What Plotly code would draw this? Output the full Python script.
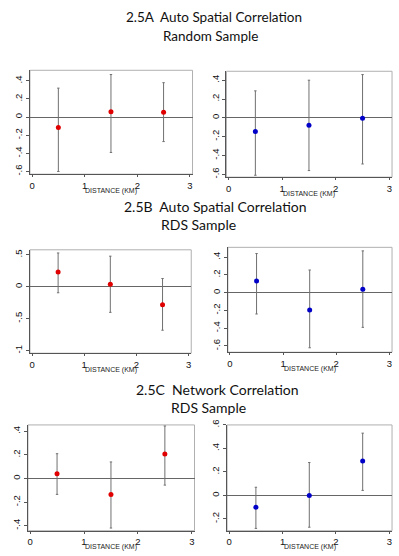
import plotly.graph_objects as go

# ---------------- data ----------------
distance = [0.5, 1.5, 2.5]

# 2.5A Auto Spatial Correlation - Random Sample
a_left_est = [-0.115, 0.06, 0.055]
a_left_lo = [-0.60, -0.39, -0.27]
a_left_hi = [0.32, 0.47, 0.38]
a_right_est = [-0.145, -0.078, -0.005]
a_right_lo = [-0.61, -0.56, -0.49]
a_right_hi = [0.287, 0.40, 0.46]

# 2.5B Auto Spatial Correlation - RDS Sample
b_left_est = [0.232, 0.04, -0.28]
b_left_lo = [-0.093, -0.40, -0.68]
b_left_hi = [0.53, 0.48, 0.13]
b_right_est = [0.131, -0.194, 0.037]
b_right_lo = [-0.24, -0.62, -0.39]
b_right_hi = [0.44, 0.255, 0.47]

# 2.5C Network Correlation - RDS Sample
c_left_est = [0.04, -0.135, 0.207]
c_left_lo = [-0.135, -0.42, -0.056]
c_left_hi = [0.21, 0.14, 0.445]
c_right_est = [-0.10, 0.0, 0.294]
c_right_lo = [-0.28, -0.27, 0.043]
c_right_hi = [0.07, 0.28, 0.53]

x_tickvals = [0, 1, 2, 3]
x_ticktext = ["0", "1", "2", "3"]
ticks_a = [-0.6, -0.4, -0.2, 0, 0.2, 0.4]
ticks_a_text = ["-.6", "-.4", "-.2", "0", ".2", ".4"]
ticks_b_left = [-1, -0.5, 0, 0.5]
ticks_b_left_text = ["-1", "-.5", "0", ".5"]
ticks_c_left = [-0.4, -0.2, 0, 0.2, 0.4]
ticks_c_left_text = ["-.4", "-.2", "0", ".2", ".4"]
ticks_c_right = [-0.2, 0, 0.2, 0.4, 0.6]
ticks_c_right_text = ["-.2", "0", ".2", ".4", ".6"]

titles = [
    ("2.5A  Auto Spatial Correlation", "Random Sample"),
    ("2.5B  Auto Spatial Correlation", "RDS Sample"),
    ("2.5C  Network Correlation", "RDS Sample"),
]
x_label = "DISTANCE (KM)"

RED = "#e00000"
BLUE = "#0000c8"

panels = [
    # est, lo, hi, color, yticks, ytext, yrange, xdomain, ydomain
    (a_left_est, a_left_lo, a_left_hi, RED, ticks_a, ticks_a_text, [-0.63, 0.517], [0.0727, 0.4812], [0.6924, 0.8813]),
    (a_right_est, a_right_lo, a_right_hi, BLUE, ticks_a, ticks_a_text, [-0.63, 0.495], [0.5664, 0.9825], [0.6870, 0.8795]),
    (b_left_est, b_left_lo, b_left_hi, RED, ticks_b_left, ticks_b_left_text, [-1.04, 0.58], [0.0727, 0.4780], [0.3669, 0.5549]),
    (b_right_est, b_right_lo, b_right_hi, BLUE, ticks_a, ticks_a_text, [-0.67, 0.51], [0.5700, 0.9825], [0.3687, 0.5594]),
    (c_left_est, c_left_lo, c_left_hi, RED, ticks_c_left, ticks_c_left_text, [-0.443, 0.454], [0.0677, 0.4862], [0.0441, 0.2365]),
    (c_right_est, c_right_lo, c_right_hi, BLUE, ticks_c_right, ticks_c_right_text, [-0.30, 0.60], [0.5680, 0.9825], [0.0441, 0.2365]),
]

fig = go.Figure()
layout = dict(
    width=399, height=556,
    margin=dict(l=0, r=0, t=0, b=0),
    paper_bgcolor="white", plot_bgcolor="white",
    showlegend=False,
    font=dict(family="Liberation Sans, Arial", color="#222"),
)
shapes = []
annotations = []

for i, (est, lo, hi, col, yt, ytt, yr, xd, yd) in enumerate(panels):
    n = "" if i == 0 else str(i + 1)
    xa, ya = "x" + n, "y" + n
    up = [h - e for h, e in zip(hi, est)]
    dn = [e - l for e, l in zip(est, lo)]
    fig.add_trace(go.Scatter(
        x=distance, y=est, xaxis=xa, yaxis=ya, mode="markers",
        marker=dict(color=col, size=5),
        error_y=dict(type="data", array=up, arrayminus=dn, symmetric=False,
                     color="#707070", thickness=1, width=1.2),
        hoverinfo="skip",
    ))
    layout["xaxis" + n] = dict(
        domain=xd, anchor=ya, range=[-0.04, 3.05],
        tickvals=x_tickvals, ticktext=x_ticktext,
        ticks="outside", ticklen=2, tickcolor="#555", tickwidth=1,
        showline=True, linecolor="#555", linewidth=1,
        showgrid=False, zeroline=False,
        tickfont=dict(size=9.5, color="#111"),
    )
    layout["yaxis" + n] = dict(
        domain=yd, anchor=xa, range=yr,
        tickvals=yt, ticktext=ytt, tickangle=-90,
        ticks="outside", ticklen=3, tickcolor="#555", tickwidth=1,
        showline=True, linecolor="#555", linewidth=1,
        showgrid=False, zeroline=True, zerolinecolor="#666", zerolinewidth=1,
        tickfont=dict(size=9.5, color="#111"),
    )
    shapes.append(dict(type="rect", xref=xa + " domain", yref=ya + " domain",
                       x0=0, x1=1, y0=0, y1=1, line=dict(color="#b0b0b0", width=1),
                       layer="below"))
    annotations.append(dict(text=x_label, xref=xa + " domain", yref=ya + " domain",
                            x=0.5, y=0, yshift=-16.5, xanchor="center", yanchor="middle",
                            showarrow=False, font=dict(size=7, color="#222")))

# titles: (line1 left px, line1 y px, line2 left px, line2 y px, font size)
title_pos = [(123, 12, 160, 31, 13.5), (121, 204, 158, 222, 14), (133, 389, 168, 407, 14)]
for (t1, t2), (x1, y1, x2, y2, fs) in zip(titles, title_pos):
    annotations.append(dict(text=t1, xref="paper", yref="paper", x=x1 / 399, y=1 - y1 / 556,
                            xanchor="left", yanchor="middle", showarrow=False,
                            font=dict(family="Lato", size=fs, color="#111")))
    annotations.append(dict(text=t2, xref="paper", yref="paper", x=x2 / 399, y=1 - y2 / 556,
                            xanchor="left", yanchor="middle", showarrow=False,
                            font=dict(family="Lato", size=fs, color="#111")))

layout["shapes"] = shapes
layout["annotations"] = annotations
fig.update_layout(**layout)
fig.write_html(
    "out.html",
    config={"displayModeBar": False, "staticPlot": True},
    post_script=(
        "document.body.style.margin='0';document.body.style.overflow='hidden';"
        "var d=document.getElementById('{plot_id}');"
        "d.style.position='absolute';d.style.top='0px';d.style.left='0px';"
    ),
)
